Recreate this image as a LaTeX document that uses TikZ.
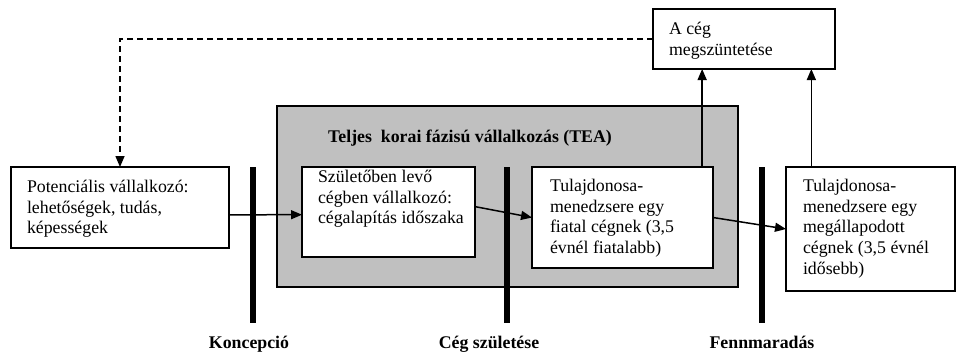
\documentclass[tikz,border=0pt]{standalone}
\usepackage{fontspec}
\setmainfont{Liberation Serif}
\usetikzlibrary{arrows.meta,calc}
\definecolor{teagray}{RGB}{192,192,192}
\begin{document}
\begin{tikzpicture}[x=1pt,y=1pt,
  box/.style={draw=black,line width=1.3pt,fill=white,inner sep=0pt,outer sep=0pt,anchor=north west},
  txt/.style={inner sep=0pt,outer sep=0pt,anchor=north west,align=left,font=\fontsize{17.8}{20.7}\selectfont},
  lbl/.style={inner sep=0pt,anchor=base,font=\fontsize{17.8}{20.7}\selectfont\bfseries},
  barnode/.style={fill=black,inner sep=0pt,outer sep=0pt,minimum width=6pt,minimum height=156pt,anchor=north},
  arr/.style={line width=1.5pt,-{Triangle[length=11pt,width=9pt]}},
  dasharr/.style={line width=1.5pt,dash pattern=on 6pt off 4pt,-{Triangle[length=11pt,width=9pt]}}]
\useasboundingbox (0,0) rectangle (957,-354);
% TEA gray box
\node[box,fill=teagray,minimum width=461pt,minimum height=181pt] (tea) at (277,-106) {};
\node[inner sep=0pt,anchor=base west,font=\fontsize{17.8}{20.7}\selectfont\bfseries] (teatitle) at (328,-142) {Teljes\ \ korai fázisú vállalkozás (TEA)};
% boxes
\node[box,minimum width=218pt,minimum height=81pt] (pot) at (11,-167) {};
\node[box,minimum width=173pt,minimum height=90pt] (szul) at (302,-167) {};
\node[box,minimum width=181pt,minimum height=101pt] (young) at (532,-167) {};
\node[box,minimum width=169pt,minimum height=124pt] (est) at (786,-167) {};
\node[box,minimum width=182pt,minimum height=60pt] (ceg) at (653,-9) {};
% texts
\node[txt] (pottxt) at (27,-180) {Potenciális vállalkozó:\\lehetőségek, tudás,\\képességek};
\node[txt] (szultxt) at (318,-170) {Születőben levő\\cégben vállalkozó:\\cégalapítás időszaka};
\node[txt] (youngtxt) at (550,-179) {Tulajdonosa-\\menedzsere egy\\fiatal cégnek (3,5\\évnél fiatalabb)};
\node[txt] (esttxt) at (803,-179) {Tulajdonosa-\\menedzsere egy\\megállapodott\\cégnek (3,5 évnél\\idősebb)};
\node[txt] (cegtxt) at (669,-22) {A cég\\megszüntetése};
% bars
\node[barnode] (bar1) at (253,-167) {};
\node[barnode] (bar2) at (507,-167) {};
\node[barnode] (bar3) at (762,-167) {};
\node[lbl] (kon) at (249,-348) {Koncepció};
\node[lbl] (szl) at (489,-348) {Cég születése};
\node[lbl] (fen) at (762,-348) {Fennmaradás};
% connector anchors
\coordinate (ya) at ($(young.north west)!0.94!(young.north east)$);
\coordinate (ea) at ($(est.north west)!0.15!(est.north east)$);
% connectors
\draw[arr] ($(pot.north east)!0.59!(pot.south east)$) -- ($(szul.north west)!0.53!(szul.south west)$);
\draw[arr] ($(szul.north east)!0.44!(szul.south east)$) -- (young.west);
\draw[arr] (young.east) -- (est.west);
\draw[arr] (ya) -- (ya |- ceg.south);
\draw[arr] (ea) -- (ea |- ceg.south);
\draw[dasharr] (ceg.west) -| (pot.north);
\end{tikzpicture}
\end{document}
